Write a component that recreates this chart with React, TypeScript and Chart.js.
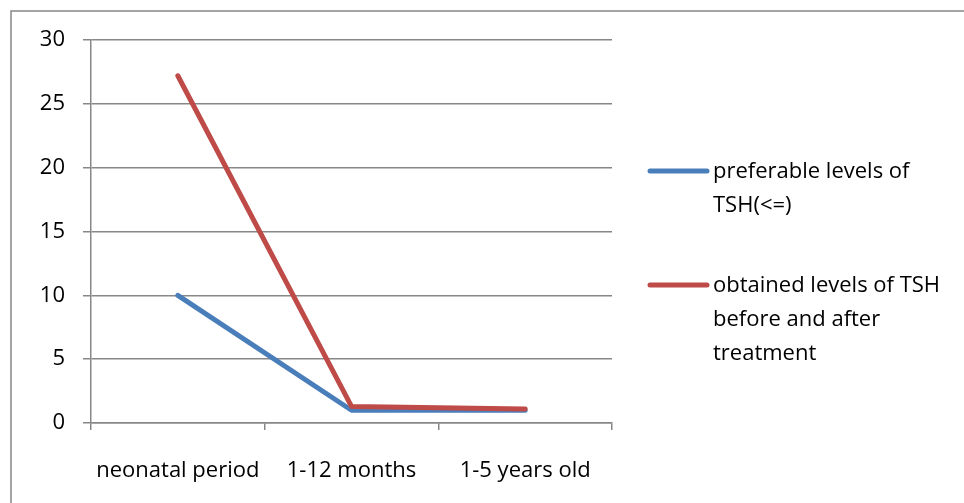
import React, { useEffect, useRef } from 'react';
import { Chart, registerables, Plugin } from 'chart.js';

Chart.register(...registerables);

const categories = ['neonatal period', '1-12 months', '1-5 years old'];
const seriesNames = ['preferable levels of TSH(<=)', 'obtained levels of TSH before and after treatment'];
const preferableTSH = [10, 1, 1];
const obtainedTSH = [27.2, 1.3, 1.1];
const yTicks = [0, 5, 10, 15, 20, 25, 30];

const seriesColors = ['#4a7ebb', '#be4b48'];
const FONT = '"Open Sans", "Liberation Sans", sans-serif';
const FONT_SIZE = 22;
const GRID = '#878787';

// border of the chart frame (only top and left show in the crop)
const framePlugin: Plugin = {
  id: 'frame',
  beforeDraw(chart) {
    const { ctx } = chart;
    ctx.save();
    ctx.strokeStyle = GRID;
    ctx.lineWidth = 1.5;
    ctx.beginPath();
    ctx.moveTo(11, chart.height);
    ctx.lineTo(11, 11);
    ctx.lineTo(chart.width, 11);
    ctx.stroke();
    ctx.restore();
  },
};

// Excel-like legend on the right, with wrapped labels
const sideLegend: Plugin = {
  id: 'sideLegend',
  afterDraw(chart) {
    const { ctx } = chart;
    const lineX0 = 650;
    const lineX1 = 707;
    const textX = 713;
    const maxWidth = chart.width - textX - 4;
    const lineHeight = 34;
    const itemGap = 46;
    let y = 172;
    ctx.save();
    ctx.font = `${FONT_SIZE}px ${FONT}`;
    ctx.textBaseline = 'middle';
    ctx.textAlign = 'left';
    chart.data.datasets.forEach((ds) => {
      // wrap words
      const words = String(ds.label).split(' ');
      const lines: string[] = [];
      let cur = '';
      words.forEach((w) => {
        const test = cur ? cur + ' ' + w : w;
        if (ctx.measureText(test).width > maxWidth && cur) {
          lines.push(cur);
          cur = w;
        } else {
          cur = test;
        }
      });
      if (cur) lines.push(cur);

      ctx.strokeStyle = ds.borderColor as string;
      ctx.lineWidth = 5;
      ctx.lineCap = 'round';
      ctx.beginPath();
      ctx.moveTo(lineX0, y - 1);
      ctx.lineTo(lineX1, y - 1);
      ctx.stroke();

      ctx.fillStyle = '#000';
      lines.forEach((ln, i) => {
        ctx.fillText(ln, textX, y + i * lineHeight);
      });
      y += lines.length * lineHeight + itemGap;
    });
    ctx.restore();
  },
};

const App: React.FC = () => {
  const chartRef = useRef<HTMLCanvasElement>(null);
  const chartInstance = useRef<Chart | null>(null);

  useEffect(() => {
    if (!chartRef.current) return;
    if (chartInstance.current) chartInstance.current.destroy();

    chartInstance.current = new Chart(chartRef.current, {
      type: 'line',
      data: {
        labels: categories,
        datasets: [
          {
            label: seriesNames[0],
            data: preferableTSH,
            borderColor: seriesColors[0],
            backgroundColor: seriesColors[0],
            borderWidth: 5,
            borderCapStyle: 'round',
            borderJoinStyle: 'round',
            pointRadius: 0,
            tension: 0,
            order: 1,
          },
          {
            label: seriesNames[1],
            data: obtainedTSH,
            borderColor: seriesColors[1],
            backgroundColor: seriesColors[1],
            borderWidth: 5,
            borderCapStyle: 'round',
            borderJoinStyle: 'round',
            pointRadius: 0,
            tension: 0,
            order: 0,
          },
        ],
      },
      options: {
        responsive: false,
        animation: false,
        layout: {
          padding: { top: 40, right: 352, bottom: 0, left: 0 },
        },
        scales: {
          x: {
            offset: true,
            grid: {
              offset: true,
              drawOnChartArea: false,
              drawTicks: true,
              tickLength: 7,
              color: GRID,
              lineWidth: 1.5,
            },
            border: { color: GRID, width: 1.5 },
            ticks: {
              color: '#000',
              padding: 28,
              maxRotation: 0,
              font: { family: FONT, size: FONT_SIZE },
            },
            afterFit(scale) {
              scale.height = 80;
            },
          },
          y: {
            min: 0,
            max: 30,
            afterBuildTicks(scale) {
              scale.ticks = yTicks.map((v) => ({ value: v }));
            },
            grid: {
              color: GRID,
              lineWidth: 1.5,
              drawTicks: true,
              tickLength: 8,
            },
            border: { color: GRID, width: 1.5 },
            ticks: {
              color: '#000',
              padding: 18,
              font: { family: FONT, size: FONT_SIZE },
            },
            afterFit(scale) {
              scale.width = 91;
            },
          },
        },
        plugins: {
          legend: { display: false },
          tooltip: { enabled: false },
        },
      },
      plugins: [framePlugin, sideLegend],
    });

    const fonts = (document as any).fonts;
    if (fonts && fonts.load) {
      fonts.load(`${FONT_SIZE}px "Open Sans"`).then(() => chartInstance.current?.update());
    }

    return () => {
      if (chartInstance.current) {
        chartInstance.current.destroy();
        chartInstance.current = null;
      }
    };
  }, []);

  return (
    <div style={{ position: 'fixed', left: 0, top: 0, width: 964, height: 503, background: '#fff' }}>
      <canvas ref={chartRef} width={964} height={503} style={{ width: 964, height: 503, display: 'block' }}></canvas>
    </div>
  );
};

export default App;
